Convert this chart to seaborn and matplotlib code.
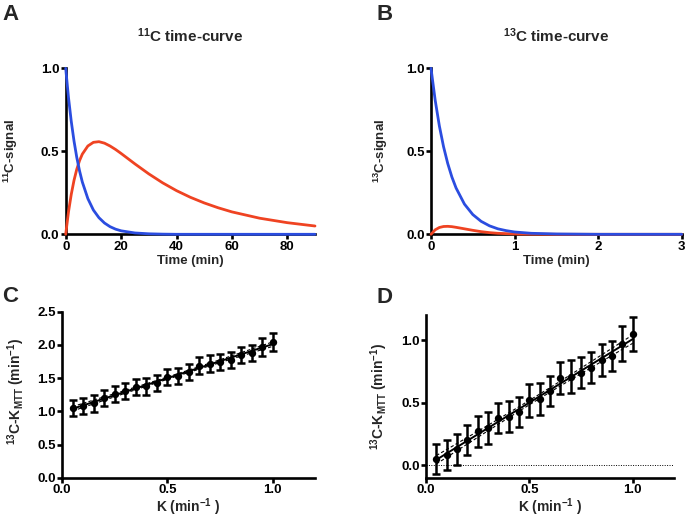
"""
Tracer time-curves (11C vs 13C) and K_MTT vs K regression panels.
Saves out.png (685x517).
"""
import matplotlib
matplotlib.use("Agg")
import matplotlib.pyplot as plt
import numpy as np
import pandas as pd
import seaborn as sns

# ---- data ---------------------------------------------------------------
# panel A: 11C time-curve (minutes)
t_a = [0, 1, 2, 3, 4, 5, 6, 8, 10, 12, 14, 16, 18, 20, 25, 30, 35, 40, 45,
       50, 55, 60, 70, 80, 90]
blue_a = [1.0, 0.825, 0.681, 0.562, 0.463, 0.382, 0.315, 0.215, 0.146, 0.100,
          0.068, 0.046, 0.031, 0.021, 0.008, 0.003, 0.001, 0.0, 0.0,
          0.0, 0.0, 0.0, 0.0, 0.0, 0.0]
red_a = [0.0, 0.134, 0.240, 0.325, 0.392, 0.444, 0.483, 0.532, 0.554, 0.558,
         0.549, 0.532, 0.511, 0.487, 0.424, 0.364, 0.310, 0.263, 0.223,
         0.189, 0.160, 0.135, 0.097, 0.070, 0.050]

# panel B: 13C time-curve (minutes)
t_b = [0, 0.05, 0.1, 0.15, 0.2, 0.25, 0.3, 0.4, 0.5, 0.6, 0.7, 0.8, 0.9,
       1.0, 1.2, 1.5, 2.0, 2.5, 3.0]
blue_b = [1.0, 0.808, 0.653, 0.528, 0.427, 0.345, 0.279, 0.182, 0.119, 0.078,
          0.051, 0.033, 0.022, 0.014, 0.006, 0.002, 0.0, 0.0, 0.0]
red_b = [0.0, 0.027, 0.041, 0.047, 0.048, 0.046, 0.042, 0.033, 0.024, 0.016,
         0.010, 0.006, 0.004, 0.002, 0.001, 0.0, 0.0, 0.0, 0.0]

# panels C/D: K (min^-1) vs 13C-K_MTT, mean +/- SD
k_vals = [0.05, 0.10, 0.15, 0.20, 0.25, 0.30, 0.35, 0.40, 0.45, 0.50,
          0.55, 0.60, 0.65, 0.70, 0.75, 0.80, 0.85, 0.90, 0.95, 1.00]
kmtt_c = [1.05, 1.085, 1.12, 1.20, 1.26, 1.31, 1.37, 1.38, 1.43, 1.52,
          1.53, 1.59, 1.69, 1.72, 1.75, 1.78, 1.85, 1.88, 1.97, 2.05]
sd_c = [0.125, 0.12, 0.125, 0.12, 0.125, 0.12, 0.12, 0.125, 0.12, 0.125,
        0.12, 0.12, 0.13, 0.13, 0.12, 0.12, 0.12, 0.12, 0.13, 0.135]
kmtt_d = [0.052, 0.083, 0.128, 0.206, 0.271, 0.30, 0.375, 0.39, 0.427, 0.52,
          0.53, 0.594, 0.695, 0.708, 0.74, 0.78, 0.84, 0.872, 0.97, 1.05]
sd_d = [0.12, 0.12, 0.125, 0.12, 0.12, 0.125, 0.12, 0.125, 0.12, 0.13,
        0.13, 0.12, 0.127, 0.13, 0.125, 0.125, 0.125, 0.12, 0.14, 0.135]
n_rep = 10  # replicates per K value behind the error bars (for the CI band)

BLUE = "#2b4de0"
RED = "#ef4322"

sns.set_style("ticks")
plt.rcParams["font.family"] = ["Liberation Sans", "DejaVu Sans"]
plt.rcParams["font.weight"] = "bold"
plt.rcParams["axes.labelweight"] = "bold"
plt.rcParams["axes.titleweight"] = "bold"
plt.rcParams["mathtext.default"] = "regular"
plt.rcParams["axes.linewidth"] = 1.9
plt.rcParams["xtick.major.width"] = 1.9
plt.rcParams["ytick.major.width"] = 1.9
plt.rcParams["xtick.major.size"] = 3.5
plt.rcParams["ytick.major.size"] = 3.5
plt.rcParams["xtick.major.pad"] = 1.0
plt.rcParams["ytick.major.pad"] = 1.0
plt.rcParams["xtick.labelsize"] = 9.5
plt.rcParams["ytick.labelsize"] = 9.5

W, H = 685, 517


def axes_px(fig, left, top, right, bottom):
    return fig.add_axes([left / W, 1 - bottom / H, (right - left) / W, (bottom - top) / H])


def style(ax):
    sns.despine(ax=ax)
    for sp in ("left", "bottom"):
        ax.spines[sp].set_color("black")
    ax.tick_params(colors="black")


def time_panel(ax, t, blue, red, title, ylab, xmax, xticks):
    df = pd.DataFrame({"t": t, "blue": blue, "red": red})
    sns.lineplot(data=df, x="t", y="red", ax=ax, color=RED, lw=2.0,
                 clip_on=False, zorder=3)
    sns.lineplot(data=df, x="t", y="blue", ax=ax, color=BLUE, lw=2.0,
                 clip_on=False, zorder=4)
    ax.set_xlim(0, xmax)
    ax.set_ylim(0, 1.0)
    ax.set_xticks(xticks)
    ax.set_yticks([0, 0.5, 1.0], ["0.0", "0.5", "1.0"])
    ax.set_title(title, fontsize=11, pad=19)
    ax.set_ylabel(ylab, fontsize=9.5)
    ax.set_xlabel("Time (min)", fontsize=9.5, labelpad=1.5)
    style(ax)


def k_panel(ax, k, y, sd, ylim, yticks, ylab):
    k = np.asarray(k)
    y = np.asarray(y)
    sd = np.asarray(sd)
    slope, icpt = np.polyfit(k, y, 1)
    n = n_rep * len(k)
    se = sd.mean() * np.sqrt(1 / n + (k - k.mean()) ** 2 / (n_rep * ((k - k.mean()) ** 2).sum()))
    fit = icpt + slope * k
    ax.plot(k, fit, color="black", lw=1.4, zorder=2)
    ax.plot(k, fit + 1.97 * se, color="black", lw=0.8, ls=(0, (3, 2)), zorder=2)
    ax.plot(k, fit - 1.97 * se, color="black", lw=0.8, ls=(0, (3, 2)), zorder=2)
    ax.errorbar(k, y, yerr=sd, fmt="none", ecolor="black", elinewidth=1.8,
                capsize=3.0, capthick=1.8, zorder=3)
    sns.scatterplot(x=k, y=y, ax=ax, color="black", s=28, edgecolor="black",
                    linewidth=0, zorder=4)
    ax.set_xlim(0, 1.2)
    ax.set_ylim(*ylim)
    ax.set_xticks([0, 0.5, 1.0], ["0.0", "0.5", "1.0"])
    ax.set_yticks(yticks, [f"{v:.1f}" for v in yticks])
    ax.set_xlabel(r"K (min$^{-1}$ )", fontsize=10)
    ax.set_ylabel(ylab, fontsize=10)
    style(ax)


def main():
    fig = plt.figure(figsize=(W / 100, H / 100), dpi=100)

    ax_a = axes_px(fig, 65.7, 68.3, 315, 234.3)
    time_panel(ax_a, t_a, blue_a, red_a, r"$^{11}$C time-curve",
               r"$^{11}$C-signal", 90, [0, 20, 40, 60, 80])
    ax_a.yaxis.set_label_coords(-0.185, 0.5)

    ax_b = axes_px(fig, 431, 68.3, 681.7, 234.3)
    time_panel(ax_b, t_b, blue_b, red_b, r"$^{13}$C time-curve",
               r"$^{13}$C-signal", 3, [0, 1, 2, 3])
    ax_b.yaxis.set_label_coords(-0.164, 0.5)

    ylab = r"$^{13}$C-K$_{MTT}$ (min$^{-1}$)"
    ax_c = axes_px(fig, 62, 311.7, 315, 478)
    k_panel(ax_c, k_vals, kmtt_c, sd_c, (0, 2.5),
            [0, 0.5, 1.0, 1.5, 2.0, 2.5], ylab)
    ax_c.yaxis.set_label_coords(-0.138, 0.52)
    ax_c.xaxis.set_label_coords(0.5, -0.108)

    ax_d = axes_px(fig, 426, 315, 674, 478)
    k_panel(ax_d, k_vals, kmtt_d, sd_d, (-0.1, 1.2), [0, 0.5, 1.0], ylab)
    ax_d.axhline(0, color="black", lw=0.7, ls=(0, (1, 1.5)), zorder=1)
    ax_d.yaxis.set_label_coords(-0.145, 0.50)
    ax_d.xaxis.set_label_coords(0.5, -0.11)

    # panel letters
    for x, y, s in [(2, 20, "A"), (377, 20, "B"), (2, 302, "C"), (377, 303, "D")]:
        fig.text(x / W, 1 - y / H, s, fontsize=16, fontweight="bold",
                 va="baseline", ha="left")

    fig.savefig("out.png", dpi=100)
    plt.close(fig)


if __name__ == "__main__":
    main()
